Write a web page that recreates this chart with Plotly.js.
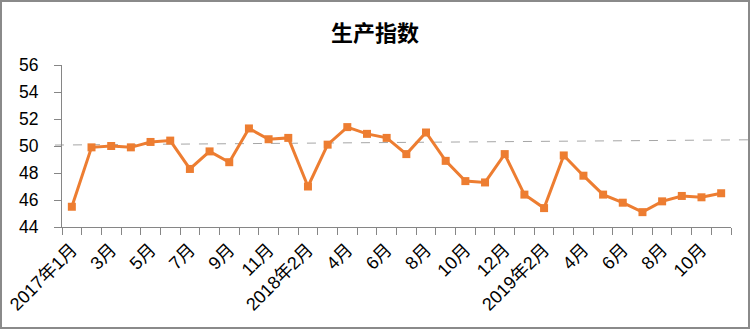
<!DOCTYPE html>
<html>
<head>
<meta charset="utf-8">
<script src="https://cdn.plot.ly/plotly-3.0.1.min.js"></script>
<style>
  html, body { margin: 0; padding: 0; background: #fff; }
  #wrap { position: relative; width: 750px; height: 330px; }
  #chart { width: 750px; height: 330px; }
  #frame { position: absolute; left: 0px; top: 0px; width: 750px; height: 329px;
           box-sizing: border-box; border: 2px solid #8a8a8a; pointer-events: none; }
</style>
</head>
<body>
<div id="wrap">
  <div id="chart"></div>
  <div id="frame"></div>
</div>
<script>
// Categories (months; 2018年1月 is absent in the source)
const categories = [
  "2017年1月","2017年2月","2017年3月","2017年4月","2017年5月","2017年6月",
  "2017年7月","2017年8月","2017年9月","2017年10月","2017年11月","2017年12月",
  "2018年2月","2018年3月","2018年4月","2018年5月","2018年6月","2018年7月",
  "2018年8月","2018年9月","2018年10月","2018年11月","2018年12月",
  "2019年1月","2019年2月","2019年3月","2019年4月","2019年5月","2019年6月",
  "2019年7月","2019年8月","2019年9月","2019年10月","2019年11月"
];
// Tick labels as shown (every other category)
const tickLabels = [
  "2017年1月","","3月","","5月","","7月","","9月","","11月","",
  "2018年2月","","4月","","6月","","8月","","10月","","12月",
  "","2019年2月","","4月","","6月","","8月","","10月",""
];
// 生产指数 values
const productionIndex = [
  45.5, 49.9, 50.0, 49.9, 50.3, 50.4, 48.3, 49.6, 48.8, 51.3, 50.5, 50.6,
  47.0, 50.1, 51.4, 50.9, 50.6, 49.4, 51.0, 48.9, 47.4, 47.3, 49.4,
  46.4, 45.4, 49.3, 47.8, 46.4, 45.8, 45.1, 45.9, 46.3, 46.2, 46.5
];
// Reference (dashed) line end values
const refLine = [50.07, 50.46];

const trace = {
  x: categories,
  y: productionIndex,
  type: "scatter",
  mode: "lines+markers",
  line: { color: "#ED7D31", width: 3 },
  marker: { symbol: "square", size: 8, color: "#ED7D31" },
  cliponaxis: false,
  hoverinfo: "x+y"
};

const fontFamily = "Liberation Sans, Arial, Noto Sans CJK SC, sans-serif";

const layout = {
  width: 750,
  height: 330,
  margin: { l: 62, r: 19, t: 65, b: 103 },
  paper_bgcolor: "#fff",
  plot_bgcolor: "#fff",
  showlegend: false,
  title: {
    text: "<b>生产指数</b>",
    font: { family: "Noto Sans CJK SC, sans-serif", size: 22, color: "#000" },
    x: 0.5, xanchor: "center",
    y: 0.9, yanchor: "middle", yref: "container"
  },
  xaxis: {
    type: "category",
    tickmode: "array",
    tickvals: categories,
    ticktext: tickLabels,
    tickson: "boundaries",
    tickangle: -45,
    ticks: "outside",
    ticklen: 7,
    tickcolor: "#868686",
    tickwidth: 1,
    showline: true,
    linecolor: "#868686",
    linewidth: 1,
    showgrid: false,
    zeroline: false,
    tickfont: { family: fontFamily, size: 18, color: "#000" },
    ticklabelstandoff: 4,
    range: [-0.5, categories.length - 0.5],
    fixedrange: true
  },
  yaxis: {
    range: [44, 56],
    tickmode: "linear",
    tick0: 44,
    dtick: 2,
    ticks: "outside",
    ticklen: 7,
    tickcolor: "#868686",
    tickwidth: 1,
    showline: true,
    linecolor: "#868686",
    linewidth: 1,
    showgrid: false,
    zeroline: false,
    tickfont: { family: fontFamily, size: 17.5, color: "#000" },
    ticklabelstandoff: 12,
    fixedrange: true
  },
  shapes: [{
    type: "line",
    xref: "paper", yref: "y",
    x0: -0.0105, x1: 1.028,
    y0: refLine[0], y1: refLine[1],
    line: { color: "#A6A6A6", width: 1, dash: "dash" },
    layer: "below"
  }]
};

Plotly.newPlot("chart", [trace], layout, { displayModeBar: false, staticPlot: true });
</script>
</body>
</html>
